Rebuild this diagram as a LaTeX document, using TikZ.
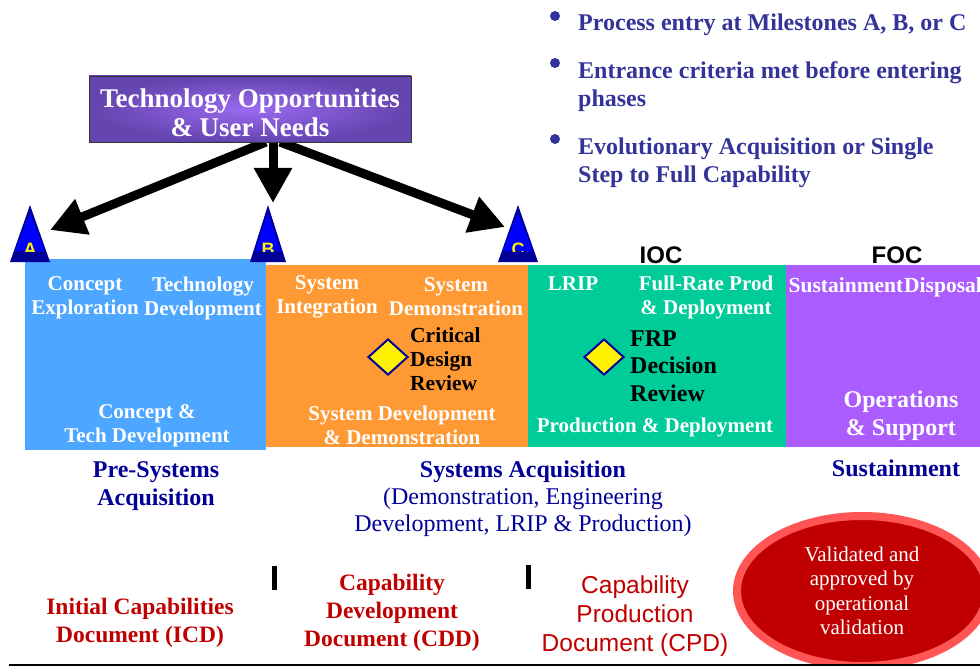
\documentclass[tikz,border=0pt]{standalone}
\usepackage{fontspec}
\setmainfont{Liberation Serif}
\newfontfamily\arialf{Liberation Sans}
\usetikzlibrary{arrows.meta,shapes.geometric}
\definecolor{boxblue}{HTML}{4DA6FF}
\definecolor{boxorange}{HTML}{FF9933}
\definecolor{boxgreen}{HTML}{00CC99}
\definecolor{boxpurple}{HTML}{AA5CFF}
\definecolor{navy}{HTML}{000099}
\definecolor{bullblue}{HTML}{333399}
\definecolor{docred}{HTML}{C00000}
\definecolor{ellborder}{HTML}{FF5555}
\definecolor{trifill}{HTML}{0000FF}
\definecolor{titcenter}{HTML}{9A6AF0}
\definecolor{titedge}{HTML}{6444AE}
\newcommand{\fsz}[2]{\fontsize{#1}{#2}\selectfont}
\begin{document}
\begin{tikzpicture}[x=1pt,y=-1pt,
  phasebox/.style={inner sep=0pt, outer sep=0pt},
  phase/.style={text=white, font=\bfseries\fsz{21}{24}, align=center, inner sep=0pt},
  review/.style={text=black, font=\bfseries\fsz{21.5}{24}, align=left, inner sep=0pt, anchor=west},
  diam/.style={diamond, draw=navy, fill=yellow, line width=2pt, aspect=1.1, minimum width=40pt, minimum height=36pt, inner sep=0pt},
  bigarrow/.style={line width=9pt, -{Triangle[length=35pt,width=36pt]}},
  bullet/.style={text=bullblue, font=\bfseries\fsz{24}{28}, align=left, inner sep=0pt, anchor=west},
  group/.style={text=navy, font=\bfseries\fsz{24}{28}, align=center, inner sep=0pt},
  doc/.style={text=docred, font=\bfseries\fsz{23.5}{28}, align=center, inner sep=0pt},
  tick/.style={fill=black, inner sep=0pt, minimum width=5pt, minimum height=24pt},
  mslabel/.style={text=yellow, font=\arialf\bfseries\fsz{18}{18}, inner sep=0pt, anchor=base}
]
\useasboundingbox (0,0) rectangle (980,666);

% phase boxes
\node[phasebox, fill=boxblue, minimum width=241pt, minimum height=191pt] (pre) at (145.5,354.5) {};
\node[phasebox, fill=boxorange, minimum width=262pt, minimum height=182pt] (sdd) at (397,356) {};
\node[phasebox, fill=boxgreen, minimum width=258pt, minimum height=182pt] (pdp) at (657,356) {};
\node[phasebox, fill=boxpurple, minimum width=194pt, minimum height=182pt] (ops) at (883,356) {};

% milestone triangles
\foreach \n/\x/\w in {A/30/20, B/268/18, C/518/20} {
  \fill[navy] (\x,205) -- (\x+\w,262) -- (\x-\w,262) -- cycle;
  \begin{scope}
    \clip (\x,213) -- (\x+\w-5,251) -- (\x-\w+5,251) -- cycle;
    \fill[trifill] (\x,213) -- (\x+\w-5,251) -- (\x-\w+5,251) -- cycle;
    \node[mslabel] (ms\n) at (\x,255.5) {\n};
  \end{scope}
}
\coordinate (tipA) at (50,230);
\coordinate (tipB) at (273,203);
\coordinate (tipC) at (505,227);

% arrows from the title box
\coordinate (srcL) at (266,142);
\coordinate (srcM) at (273,140);
\coordinate (srcR) at (280,142);
\draw[bigarrow] (srcL) -- (tipA);
\draw[bigarrow] (srcM) -- (tipB);
\draw[bigarrow] (srcR) -- (tipC);

% title
\node[draw=black!80, line width=0.8pt, inner color=titcenter, outer color=titedge,
      minimum width=322pt, minimum height=66pt, inner sep=0pt] (title) at (250,109) {};
\node[text=white, font=\bfseries\fsz{27}{29}, align=center, inner sep=0pt] (titletext) at (250,112.5)
      {Technology Opportunities\\\& User Needs};

% bullets
\fill[bullblue] (555,16) circle (5pt);
\fill[bullblue] (555,63) circle (5pt);
\fill[bullblue] (555,139) circle (5pt);
\node[bullet] (b1) at (578,25) {Process entry at Milestones A, B, or C};
\node[bullet] (b2) at (578,86.5) {Entrance criteria met before entering\\phases};
\node[bullet] (b3) at (578,163) {Evolutionary Acquisition or Single\\Step to Full Capability};

% IOC / FOC
\node[anchor=base, font=\arialf\fsz{24}{24}, inner sep=0pt] (ioc) at (661,263) {\textbf{IOC}};
\node[anchor=base, font=\arialf\fsz{24}{24}, inner sep=0pt] (foc) at (897,263) {\textbf{FOC}};

% blue box text
\node[phase] (ce) at (85,298) {Concept\\Exploration};
\node[phase] (td) at (203,298) {Technology\\Development};
\node[phase] (ctd) at (147,426) {Concept \&\\Tech Development};

% orange box text
\node[phase] (si) at (327,297) {System\\Integration};
\node[phase] (sdm) at (456,297) {System\\Demonstration};
\node[diam] (cdrd) at (388,357) {};
\node[review] (cdr) at (410,359) {Critical\\Design\\Review};
\node[phase] (sddt) at (402,425) {System Development\\\& Demonstration};

% green box text
\node[phase, anchor=base] (lrip) at (573,290) {LRIP};
\node[phase] (frpd) at (706,297) {Full-Rate Prod\\\& Deployment};
\node[diam] (frpdia) at (604,357) {};
\node[review, font=\bfseries\fsz{24}{27.5}] (frp) at (630,366) {FRP\\Decision\\Review};
\node[phase] (pdt) at (655,427.5) {Production \& Deployment};

% purple box text
\node[phase, font=\bfseries\fsz{21.5}{24}, anchor=base] (sust) at (846,292) {Sustainment};
\node[phase, font=\bfseries\fsz{21.5}{24}, anchor=base west] (disp) at (904,292) {Disposal};
\node[phase, font=\bfseries\fsz{24}{28}] (opst) at (901,416) {Operations\\\& Support};

% group labels
\node[group] (presys) at (156,486.5) {Pre-Systems\\Acquisition};
\node[group, anchor=base] (sysacq) at (523,477) {Systems Acquisition};
\node[group, font=\fsz{24}{27}] (sysdesc) at (523,512.5) {(Demonstration, Engineering\\Development, LRIP \& Production)};
\node[group, anchor=base] (sustg) at (896,476) {Sustainment};

% documents
\node[tick] (tick1) at (274.5,578) {};
\node[tick] (tick2) at (528,577) {};
\node[doc] (icd) at (140,623) {Initial Capabilities\\Document (ICD)};
\node[doc] (cdd) at (392,612.5) {Capability\\Development\\Document (CDD)};
\node[doc, font=\arialf\fsz{24.5}{29}] (cpd) at (635,616.5) {Capability\\Production\\Document (CPD)};
\node[ellipse, draw=ellborder, fill=docred, line width=8pt, minimum width=250pt, minimum height=150pt,
      text=white, font=\fsz{21}{24.5}, align=center] (valid) at (862,591)
      {Validated and\\approved by\\operational\\validation};

% bottom rule
\coordinate (ruleL) at (9,665);
\coordinate (ruleR) at (980,665);
\draw[line width=2.5pt] (ruleL) -- (ruleR);
\end{tikzpicture}
\end{document}
